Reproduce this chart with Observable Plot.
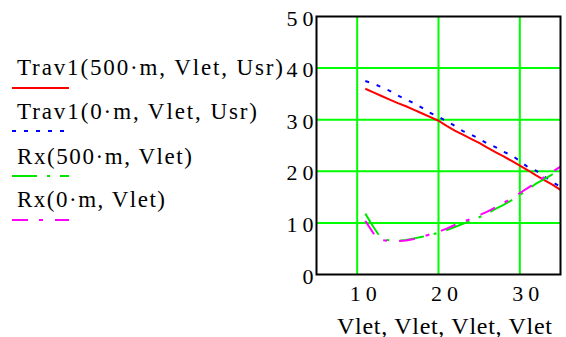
<!DOCTYPE html>
<html>
<head>
<meta charset="utf-8">
<script src="https://cdn.jsdelivr.net/npm/d3@7"></script>
<script src="https://cdn.jsdelivr.net/npm/@observablehq/plot@0.6"></script>
<style>
  html, body { margin: 0; padding: 0; background: #fff; }
  #chart { width: 566px; height: 337px; }
</style>
</head>
<body>
<div id="chart"></div>
<script>
// ---- data ----
const vlet = [11,12,13,14,15,16,17,18,19,20,21,22,23,24,25,26,27,28,29,30,31,32,33,34,35];
const trav500 = [36.0,35.3,34.6,33.9,33.2,32.6,31.9,31.2,30.5,29.8,28.8,27.9,27.1,26.3,25.5,24.6,23.7,22.9,22.0,21.1,20.2,19.2,18.3,17.4,16.4];
const trav0   = [37.5,37.0,36.3,35.6,34.7,33.9,33.2,32.3,31.3,30.6,29.7,28.8,27.8,27.1,26.3,25.4,24.7,23.8,23.1,22.0,20.8,20.1,19.0,17.9,17.0];
const rx500   = [11.8,9.2,6.9,6.6,6.5,6.7,7.0,7.3,7.7,8.1,8.6,9.2,9.8,10.4,11.1,11.8,12.7,13.5,14.4,15.4,16.5,17.6,18.5,19.4,20.4];
const rx0     = [10.4,8.0,6.7,6.5,6.5,6.6,6.9,7.3,7.8,8.3,8.9,9.6,10.2,10.8,11.5,12.2,13.0,13.9,14.7,15.8,16.8,17.8,18.9,19.9,20.9];
const seriesNames = ["Trav1(500·m, Vlet, Usr)", "Trav1(0·m, Vlet, Usr)", "Rx(500·m, Vlet)", "Rx(0·m, Vlet)"];
const seriesValues = [trav500, trav0, rx500, rx0];
const xTicks = [10, 20, 30];
const yTicks = [0, 10, 20, 30, 40, 50];
const xLabel = "Vlet, Vlet, Vlet, Vlet";

// ---- styles ----
const FONT = "Liberation Serif";
const styles = [
  {stroke: "#ff0000", dash: null},
  {stroke: "#0000ff", dash: "4,8"},
  {stroke: "#00e600", dash: "25,10,3,10"},
  {stroke: "#ff00ff", dash: "16,11,4,12"}
];
const legendText = [
  {y: 75, len: 266, lineY: 88},
  {y: 119, len: 240, lineY: 131},
  {y: 164, len: 175, lineY: 176},
  {y: 207, len: 148, lineY: 220}
];

const rows = seriesValues.map(vals => vlet.map((x, i) => ({x, y: vals[i]})));

const plot = Plot.plot({
  width: 566,
  height: 337,
  marginLeft: 316,
  marginRight: 6,
  marginTop: 16,
  marginBottom: 63,
  style: {background: "white", color: "black", fontFamily: FONT},
  x: {domain: [5, 35], label: null},
  y: {domain: [0, 50], label: null},
  marks: [
    Plot.gridX(xTicks, {stroke: "#00ff00", strokeOpacity: 1, strokeWidth: 2}),
    Plot.gridY(yTicks.filter(d => d > 0 && d < 50), {stroke: "#00ff00", strokeOpacity: 1, strokeWidth: 2}),
    ...rows.map((r, i) => Plot.line(r, {
      x: "x", y: "y", stroke: styles[i].stroke, strokeWidth: 2,
      strokeDasharray: styles[i].dash || undefined, strokeLinecap: "butt"
    })),
    Plot.frame({stroke: "black", strokeWidth: 2}),
    Plot.axisX(xTicks, {tickSize: 0, tickPadding: 11, fontSize: 22, dx: 6, label: null}),
    Plot.axisY(yTicks, {tickSize: 0, tickPadding: 3, fontSize: 22, dy: 2, label: null}),
    Plot.text([xLabel], {frameAnchor: "bottom", dy: 59, dx: 6, fontSize: 24, textAnchor: "middle", lineAnchor: "bottom"})
  ]
});

document.getElementById("chart").appendChild(plot);
const svg = d3.select(plot);

svg.selectAll('g[aria-label="y-axis tick label"] text, g[aria-label="x-axis tick label"] text')
  .each(function() {
    const t = d3.select(this).text();
    if (t.length > 1) d3.select(this).attr("textLength", 27).attr("lengthAdjust", "spacing");
  });
svg.selectAll('g[aria-label="text"] text').attr("textLength", 215).attr("lengthAdjust", "spacing");

// legend at the left
const leg = svg.append("g").attr("class", "legend").attr("text-anchor", "start");
seriesNames.forEach((name, i) => {
  leg.append("text")
    .attr("x", 17).attr("y", legendText[i].y)
    .attr("font-size", 23)
    .attr("font-family", FONT)
    .attr("fill", "black")
    .attr("text-anchor", "start")
    .attr("textLength", legendText[i].len)
    .attr("lengthAdjust", "spacing")
    .text(name);
  leg.append("line")
    .attr("x1", 12).attr("x2", 69)
    .attr("y1", legendText[i].lineY).attr("y2", legendText[i].lineY)
    .attr("stroke", styles[i].stroke)
    .attr("stroke-width", 2)
    .attr("stroke-dasharray", styles[i].dash);
});
</script>
</body>
</html>
